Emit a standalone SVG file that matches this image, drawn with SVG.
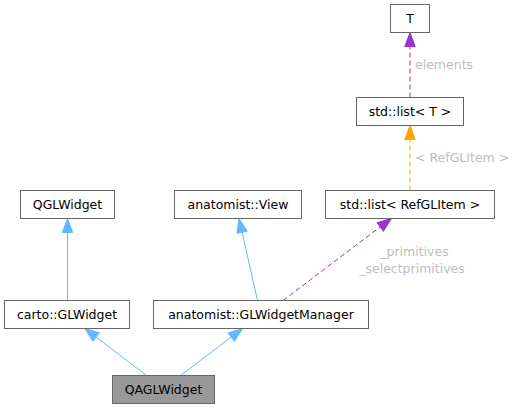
<svg xmlns="http://www.w3.org/2000/svg" width="519" height="409" viewBox="0 0 519 409">
<style>
.box{fill:#ffffff;stroke:#666666;stroke-width:1}
.cur{fill:#999999;stroke:#666666;stroke-width:1}
.t{font-family:"DejaVu Sans","Liberation Sans",sans-serif;font-size:12.5px;fill:#000000;text-anchor:middle}
.lbl{font-family:"DejaVu Sans","Liberation Sans",sans-serif;font-size:12.5px;fill:#bebebe}
.blue{fill:none;stroke:#63b8ff;stroke-width:1}
.purple{fill:none;stroke:#9a32cd;stroke-width:1;stroke-dasharray:5,3}
.orange{fill:none;stroke:#ffa500;stroke-width:1;stroke-dasharray:5,3}
</style>
<defs>
<marker id="ab" markerUnits="userSpaceOnUse" orient="auto" refX="0" refY="0" markerWidth="16" markerHeight="12" overflow="visible"><path d="M0,-5.2 L14,0 L0,5.2 z" fill="#63b8ff" stroke="#63b8ff" stroke-width="1"/></marker>
<marker id="ap" markerUnits="userSpaceOnUse" orient="auto" refX="0" refY="0" markerWidth="16" markerHeight="12" overflow="visible"><path d="M0,-5.2 L14,0 L0,5.2 z" fill="#9a32cd" stroke="#9a32cd" stroke-width="1"/></marker>
<marker id="ao" markerUnits="userSpaceOnUse" orient="auto" refX="0" refY="0" markerWidth="16" markerHeight="12" overflow="visible"><path d="M0,-5.2 L14,0 L0,5.2 z" fill="#ffa500" stroke="#ffa500" stroke-width="1"/></marker>
</defs>
<g id="connectors">
<path class="blue" d="M67.5,300.5 L67.5,232.5" marker-end="url(#ab)"/>
<path class="blue" d="M257.5,300.5 L242.1,232.2" marker-end="url(#ab)"/>
<path class="blue" d="M146.5,375.5 L96.1,337" marker-end="url(#ab)"/>
<path class="blue" d="M180.5,375.5 L231.3,337" marker-end="url(#ab)"/>
<path class="purple" d="M283,300.5 L380.3,226.9" marker-end="url(#ap)"/>
<path class="orange" d="M410,190.5 L410,139.5" marker-end="url(#ao)"/>
<path class="purple" d="M410,97.5 L410,46.5" marker-end="url(#ap)"/>
<text class="lbl" x="414.5" y="255.5" text-anchor="middle">_primitives</text>
<text class="lbl" x="412" y="272.5" text-anchor="middle">_selectprimitives</text>
<text class="lbl" x="415" y="161.5">&lt; RefGLItem &gt;</text>
<text class="lbl" x="415" y="68.5">elements</text>
</g>
<g id="node_T"><rect class="box" x="390.5" y="4.5" width="39" height="28"/><text class="t" x="410" y="23">T</text></g>
<g id="node_listT"><rect class="box" x="356.5" y="97.5" width="107" height="28"/><text class="t" x="410" y="116">std::list&lt; T &gt;</text></g>
<g id="node_listRef"><rect class="box" x="325.5" y="190.5" width="169" height="28"/><text class="t" x="410" y="209">std::list&lt; RefGLItem &gt;</text></g>
<g id="node_QGLWidget"><rect class="box" x="20.5" y="190.5" width="94" height="28"/><text class="t" x="67.5" y="209">QGLWidget</text></g>
<g id="node_View"><rect class="box" x="174.5" y="190.5" width="127" height="28"/><text class="t" x="238" y="209">anatomist::View</text></g>
<g id="node_carto"><rect class="box" x="4.5" y="300.5" width="125" height="28"/><text class="t" x="67" y="319">carto::GLWidget</text></g>
<g id="node_GLWM"><rect class="box" x="153.5" y="300.5" width="215" height="28"/><text class="t" x="261" y="319">anatomist::GLWidgetManager</text></g>
<g id="node_QAGL"><rect class="cur" x="112.5" y="375.5" width="102" height="28"/><text class="t" x="163.5" y="394">QAGLWidget</text></g>
</svg>
